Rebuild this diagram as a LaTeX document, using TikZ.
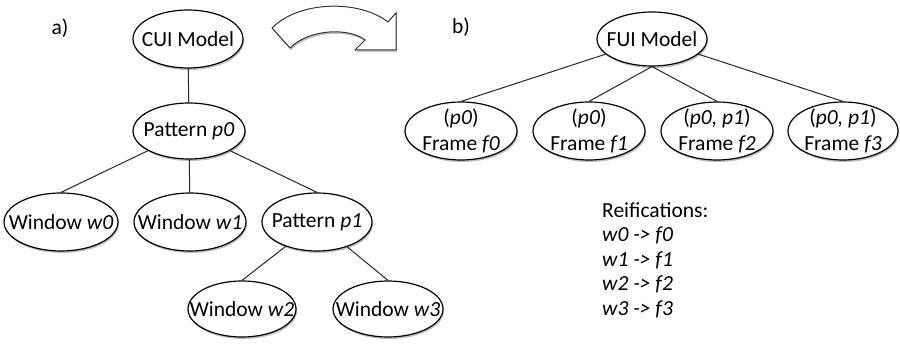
\documentclass[tikz,border=0pt]{standalone}
\usepackage{fontspec}
\setmainfont{Carlito}
\usetikzlibrary{shapes.geometric,shadows}
\begin{document}
\begin{tikzpicture}[x=1pt,y=-1pt,
  every node/.style={font=\fontsize{21.5}{26}\selectfont},
  ell/.style={ellipse, draw=black, line width=1.2pt, fill=white, inner sep=0pt,
    drop shadow={shadow xshift=1pt, shadow yshift=-2pt, opacity=0.25, fill=black}},
  txt/.style={inner sep=0pt, align=center, font=\fontsize{21.5}{26}\selectfont},
  link/.style={draw=black!85, line width=1pt},
  lbl/.style={inner sep=0pt}
]
\useasboundingbox (0,0) rectangle (900,344);

% a) tree
\node[lbl] (la) at (60,28) {a)};
\node[ell, minimum width=110pt, minimum height=58pt, label={[txt]center:CUI Model}] (cui) at (188,39) {};
\node[ell, minimum width=112pt, minimum height=56pt, label={[txt]center:Pattern \textit{p0}}] (p0) at (189,131) {};
\node[ell, minimum width=114pt, minimum height=58pt, label={[txt]center:Window \textit{w0}}] (w0) at (61,222) {};
\node[ell, minimum width=112pt, minimum height=58pt, label={[txt]center:Window \textit{w1}}] (w1) at (190,222) {};
\node[ell, minimum width=110pt, minimum height=58pt, label={[txt]center:Pattern \textit{p1}}] (p1) at (317,222) {};
\node[ell, minimum width=108pt, minimum height=56pt, label={[txt]center:Window \textit{w2}}] (w2) at (242,309) {};
\node[ell, minimum width=110pt, minimum height=56pt, label={[txt]center:Window \textit{w3}}] (w3) at (388,309) {};

\draw[link] (cui) -- (p0);
\draw[link] (p0) -- (w0.north);
\draw[link] (p0) -- (w1);
\draw[link] (p0) -- (p1.north);
\draw[link] (p1) -- (w2.north);
\draw[link] (p1) -- (w3.north);

% curved block arrow
\draw[line width=1pt, draw=black!80, fill=white,
  drop shadow={shadow xshift=1pt, shadow yshift=-2pt, opacity=0.25, fill=black}]
  (272,28) .. controls (300,0) and (360,0) .. (388,22)
  -- (396,13) -- (396,50) -- (355,50) -- (365,40)
  .. controls (350,28) and (310,28) .. (290,48) -- cycle;

% b) tree
\node[lbl] (lb) at (461,27) {b)};
\node[ell, minimum width=110pt, minimum height=54pt, label={[txt]center:FUI Model}] (fui) at (652,39) {};
\node[ell, minimum width=112pt, minimum height=58pt, label={[txt]center:(\textit{p0})\\Frame \textit{f0}}] (f0) at (461,131) {};
\node[ell, minimum width=112pt, minimum height=58pt, label={[txt]center:(\textit{p0})\\Frame \textit{f1}}] (f1) at (589,131) {};
\node[ell, minimum width=112pt, minimum height=58pt, label={[txt]center:(\textit{p0, p1})\\Frame \textit{f2}}] (f2) at (717,131) {};
\node[ell, minimum width=110pt, minimum height=58pt, label={[txt]center:(\textit{p0, p1})\\Frame \textit{f3}}] (f3) at (843,131) {};

\draw[link] (fui) -- (f0.north);
\draw[link] (fui.south) -- (f1.north);
\draw[link] (fui.south) -- (f2.north);
\draw[link] (fui) -- (f3.north);

% reifications
\node[lbl, anchor=north west, align=left, font=\fontsize{21.5}{24.5}\selectfont] (reif) at (602,202)
  {Reifications:\\\textit{w0 -> f0}\\\textit{w1 -> f1}\\\textit{w2 -> f2}\\\textit{w3 -> f3}};
\end{tikzpicture}
\end{document}
